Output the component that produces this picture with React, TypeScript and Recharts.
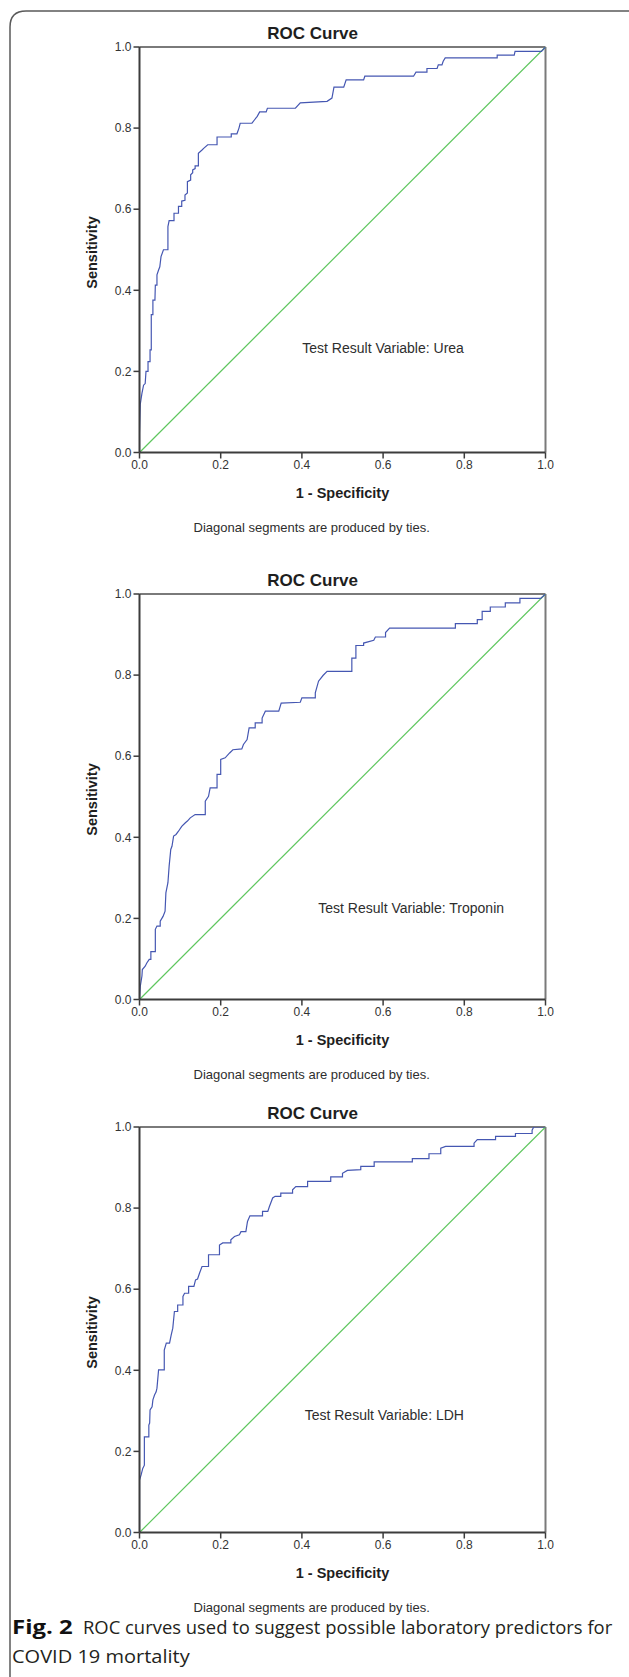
import React, { useLayoutEffect, useRef, useState } from 'react';
import { LineChart, Line, XAxis, YAxis, ReferenceLine } from 'recharts';

const FONT = '"Liberation Sans", Arial, sans-serif';
const CAPTION_FONT = '"Open Sans", "Noto Sans", sans-serif';

const axisTicks = [0, 0.2, 0.4, 0.6, 0.8, 1];
const axisTickLabels = ['0.0', '0.2', '0.4', '0.6', '0.8', '1.0'];

const chanceFpr = [0, 1];
const chanceTpr = [0, 1];

const ureaFpr = [0, 0, 0.002, 0.006, 0.01, 0.014, 0.016, 0.021, 0.021, 0.026, 0.026, 0.029, 0.029, 0.033, 0.033, 0.038, 0.039, 0.043, 0.043, 0.047, 0.05, 0.053, 0.059, 0.07, 0.07, 0.073, 0.085, 0.085, 0.096, 0.096, 0.104, 0.104, 0.112, 0.112, 0.118, 0.118, 0.126, 0.126, 0.131, 0.131, 0.137, 0.137, 0.145, 0.145, 0.154, 0.158, 0.168, 0.191, 0.191, 0.226, 0.226, 0.24, 0.245, 0.248, 0.277, 0.283, 0.29, 0.296, 0.312, 0.315, 0.384, 0.396, 0.462, 0.474, 0.479, 0.503, 0.509, 0.552, 0.555, 0.675, 0.681, 0.708, 0.708, 0.733, 0.736, 0.745, 0.748, 0.753, 0.881, 0.881, 0.923, 0.925, 0.99, 1];
const ureaTpr = [0, 0.047, 0.12, 0.146, 0.166, 0.17, 0.2, 0.2, 0.224, 0.224, 0.253, 0.253, 0.34, 0.34, 0.376, 0.376, 0.413, 0.413, 0.438, 0.45, 0.458, 0.483, 0.5, 0.5, 0.557, 0.572, 0.572, 0.59, 0.59, 0.607, 0.607, 0.62, 0.622, 0.635, 0.64, 0.668, 0.672, 0.685, 0.69, 0.697, 0.7, 0.707, 0.707, 0.738, 0.746, 0.75, 0.759, 0.759, 0.778, 0.778, 0.786, 0.786, 0.8, 0.812, 0.812, 0.82, 0.829, 0.84, 0.84, 0.849, 0.849, 0.862, 0.866, 0.874, 0.901, 0.901, 0.919, 0.919, 0.928, 0.928, 0.938, 0.938, 0.947, 0.947, 0.956, 0.956, 0.965, 0.973, 0.973, 0.98, 0.98, 0.989, 0.989, 1];

const troponinFpr = [0, 0.002, 0.006, 0.007, 0.014, 0.018, 0.024, 0.028, 0.028, 0.039, 0.039, 0.043, 0.051, 0.051, 0.058, 0.063, 0.065, 0.07, 0.073, 0.077, 0.08, 0.084, 0.09, 0.096, 0.104, 0.113, 0.118, 0.125, 0.137, 0.162, 0.162, 0.17, 0.174, 0.191, 0.191, 0.2, 0.2, 0.211, 0.222, 0.23, 0.252, 0.256, 0.265, 0.27, 0.285, 0.285, 0.302, 0.302, 0.31, 0.343, 0.349, 0.396, 0.4, 0.433, 0.433, 0.441, 0.452, 0.462, 0.523, 0.523, 0.533, 0.533, 0.552, 0.552, 0.577, 0.581, 0.606, 0.606, 0.616, 0.778, 0.778, 0.832, 0.832, 0.844, 0.844, 0.864, 0.864, 0.901, 0.901, 0.937, 0.937, 0.988, 1];
const troponinTpr = [0, 0.033, 0.058, 0.074, 0.082, 0.09, 0.099, 0.099, 0.118, 0.118, 0.173, 0.181, 0.181, 0.193, 0.205, 0.218, 0.263, 0.288, 0.329, 0.37, 0.378, 0.403, 0.407, 0.415, 0.427, 0.436, 0.44, 0.448, 0.456, 0.456, 0.489, 0.501, 0.522, 0.522, 0.555, 0.555, 0.592, 0.596, 0.608, 0.616, 0.618, 0.629, 0.641, 0.67, 0.67, 0.682, 0.682, 0.694, 0.711, 0.711, 0.731, 0.733, 0.744, 0.744, 0.756, 0.785, 0.799, 0.809, 0.809, 0.842, 0.842, 0.873, 0.873, 0.879, 0.886, 0.894, 0.894, 0.905, 0.916, 0.916, 0.927, 0.927, 0.937, 0.937, 0.957, 0.957, 0.968, 0.968, 0.978, 0.978, 0.989, 0.989, 1];

const ldhFpr = [0, 0, 0.004, 0.008, 0.012, 0.012, 0.023, 0.023, 0.025, 0.026, 0.031, 0.033, 0.037, 0.041, 0.043, 0.047, 0.061, 0.061, 0.066, 0.074, 0.078, 0.082, 0.086, 0.094, 0.094, 0.107, 0.107, 0.111, 0.121, 0.121, 0.134, 0.138, 0.143, 0.148, 0.154, 0.17, 0.17, 0.197, 0.197, 0.205, 0.225, 0.225, 0.234, 0.246, 0.25, 0.262, 0.266, 0.272, 0.303, 0.303, 0.316, 0.32, 0.328, 0.334, 0.348, 0.348, 0.377, 0.377, 0.385, 0.414, 0.414, 0.471, 0.471, 0.5, 0.5, 0.512, 0.545, 0.545, 0.578, 0.578, 0.672, 0.672, 0.713, 0.713, 0.742, 0.742, 0.754, 0.824, 0.824, 0.832, 0.877, 0.877, 0.926, 0.926, 0.967, 0.967, 0.971, 1];
const ldhTpr = [0, 0.129, 0.142, 0.158, 0.166, 0.236, 0.236, 0.265, 0.27, 0.302, 0.31, 0.327, 0.339, 0.347, 0.356, 0.401, 0.401, 0.45, 0.467, 0.467, 0.487, 0.504, 0.545, 0.545, 0.561, 0.561, 0.582, 0.59, 0.59, 0.607, 0.607, 0.623, 0.625, 0.64, 0.656, 0.656, 0.685, 0.685, 0.709, 0.714, 0.714, 0.722, 0.73, 0.734, 0.742, 0.742, 0.767, 0.781, 0.781, 0.792, 0.792, 0.804, 0.825, 0.829, 0.829, 0.837, 0.837, 0.845, 0.853, 0.853, 0.866, 0.866, 0.877, 0.877, 0.886, 0.893, 0.895, 0.903, 0.903, 0.914, 0.914, 0.922, 0.922, 0.934, 0.934, 0.948, 0.952, 0.952, 0.96, 0.969, 0.969, 0.977, 0.977, 0.984, 0.984, 0.992, 1, 1];

const toPoints = (xs: number[], ys: number[]) => xs.map((x, i) => ({ x, y: ys[i] }));
const fmtTick = (v: number) => {
  const i = axisTicks.indexOf(v);
  return i >= 0 ? axisTickLabels[i] : String(v);
};

const AXIS_COLOR = '#3c3c3c';
const FRAME_COLOR = '#7a7a7a';
const ROC_COLOR = '#4557b2';
const CHANCE_COLOR = '#5ec65e';
const TEXT_COLOR = '#2e2e2e';

type PanelProps = {
  top: number;
  fpr: number[];
  tpr: number[];
  variable: string;
  labelLeft: number;
  labelCenterY: number;
};

function RocPanel({ top, fpr, tpr, variable, labelLeft, labelCenterY }: PanelProps) {
  const roc = toPoints(fpr, tpr);
  const chance = toPoints(chanceFpr, chanceTpr);
  const tickStyle = { fontSize: 12, fill: '#333', fontFamily: FONT };
  return (
    <div style={{ position: 'absolute', left: 0, top, width: 629, height: 545 }}>
      <LineChart width={629} height={545} margin={{ top: 47, right: 83.5, bottom: 62.5, left: 0 }}>
        <XAxis
          type="number"
          dataKey="x"
          domain={[0, 1]}
          ticks={axisTicks}
          interval={0}
          allowDataOverflow
          tickFormatter={fmtTick}
          height={30}
          axisLine={{ stroke: AXIS_COLOR, strokeWidth: 2 }}
          tickLine={{ stroke: AXIS_COLOR, strokeWidth: 1.5 }}
          tickSize={6}
          tickMargin={2}
          tick={tickStyle}
        />
        <YAxis
          type="number"
          dataKey="y"
          domain={[0, 1]}
          ticks={axisTicks}
          interval={0}
          allowDataOverflow
          tickFormatter={fmtTick}
          width={139.5}
          axisLine={{ stroke: AXIS_COLOR, strokeWidth: 2 }}
          tickLine={{ stroke: AXIS_COLOR, strokeWidth: 1.5 }}
          tickSize={6}
          tickMargin={2}
          tick={tickStyle}
        />
        <ReferenceLine y={1} stroke={FRAME_COLOR} strokeWidth={2} />
        <ReferenceLine x={1} stroke={FRAME_COLOR} strokeWidth={2} />
        <Line data={chance} dataKey="y" type="linear" stroke={CHANCE_COLOR} strokeWidth={1.2} dot={false} activeDot={false} isAnimationActive={false} />
        <Line data={roc} dataKey="y" type="linear" stroke={ROC_COLOR} strokeWidth={1.2} dot={false} activeDot={false} isAnimationActive={false} />
      </LineChart>
      <div style={{ position: 'absolute', left: 312.7 - 150, width: 300, top: 33.3 - 8.5, lineHeight: '17px', fontSize: 17, fontWeight: 700, fontFamily: FONT, color: '#1e1e1e', textAlign: 'center', whiteSpace: 'nowrap' }}>ROC Curve</div>
      <div style={{ position: 'absolute', left: 342.5 - 150, width: 300, top: 493.5 - 7.5, lineHeight: '15px', fontSize: 14.5, fontWeight: 700, fontFamily: FONT, color: '#1e1e1e', textAlign: 'center', whiteSpace: 'nowrap' }}>1 - Specificity</div>
      <div style={{ position: 'absolute', left: 91.5 - 100, width: 200, top: 252 - 7.5, lineHeight: '15px', fontSize: 14.5, fontWeight: 700, fontFamily: FONT, color: '#1e1e1e', textAlign: 'center', whiteSpace: 'nowrap', transform: 'rotate(-90deg)' }}>Sensitivity</div>
      <div style={{ position: 'absolute', left: 311.7 - 200, width: 400, top: 527 - 6.5, lineHeight: '13px', fontSize: 13, fontFamily: FONT, color: TEXT_COLOR, textAlign: 'center', whiteSpace: 'nowrap' }}>Diagonal segments are produced by ties.</div>
      <div style={{ position: 'absolute', left: labelLeft, top: labelCenterY - 7, lineHeight: '14px', fontSize: 14, fontFamily: FONT, color: TEXT_COLOR, whiteSpace: 'nowrap' }}>{variable}</div>
    </div>
  );
}

type FitProps = {
  left: number;
  centerY: number;
  width: number;
  bold?: boolean;
  children: React.ReactNode;
};

function FitText({ left, centerY, width, bold, children }: FitProps) {
  const ref = useRef<HTMLSpanElement>(null);
  const [scale, setScale] = useState(1);
  useLayoutEffect(() => {
    if (ref.current) {
      const w = ref.current.offsetWidth;
      if (w > 0) setScale(width / w);
    }
  }, [width]);
  return (
    <span
      ref={ref}
      style={{
        position: 'absolute',
        left,
        top: centerY - 14,
        lineHeight: '28px',
        fontSize: bold ? 20 : 19,
        fontWeight: bold ? 700 : 400,
        fontFamily: CAPTION_FONT,
        color: bold ? '#111' : '#231f20',
        whiteSpace: 'nowrap',
        transform: `scaleX(${scale})`,
        transformOrigin: 'left center',
      }}
    >
      {children}
    </span>
  );
}

export default function App() {
  return (
    <div style={{ position: 'absolute', left: 0, top: 0, width: 629, height: 1677, background: '#fff', overflow: 'hidden' }}>
      <RocPanel top={0} fpr={ureaFpr} tpr={ureaTpr} variable="Test Result Variable: Urea" labelLeft={302.3} labelCenterY={347.7} />
      <RocPanel top={547} fpr={troponinFpr} tpr={troponinTpr} variable="Test Result Variable: Troponin" labelLeft={318.3} labelCenterY={360.7} />
      <RocPanel top={1080} fpr={ldhFpr} tpr={ldhTpr} variable="Test Result Variable: LDH" labelLeft={304.7} labelCenterY={335} />
      <svg width={629} height={1677} style={{ position: 'absolute', left: 0, top: 0, pointerEvents: 'none' }}>
        <path d="M10,1677 L10,27 Q10,11 26,11 L629,11" fill="none" stroke="#5a5a5a" strokeWidth={1.5} />
      </svg>
      <FitText left={12} centerY={1627} width={61} bold>Fig. 2</FitText>
      <FitText left={83} centerY={1627} width={529}>ROC curves used to suggest possible laboratory predictors for</FitText>
      <FitText left={12} centerY={1656} width={178}>COVID 19 mortality</FitText>
    </div>
  );
}
